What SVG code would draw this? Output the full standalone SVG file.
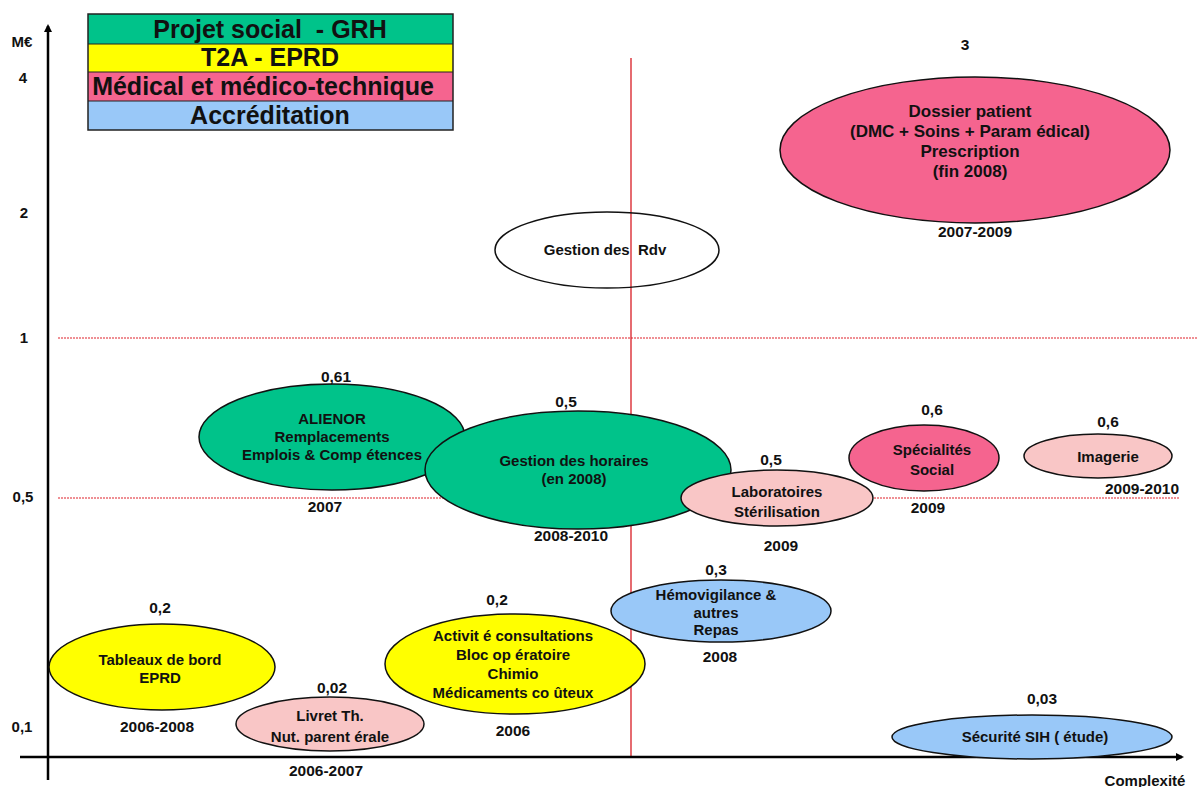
<svg xmlns="http://www.w3.org/2000/svg" width="1198" height="787" viewBox="0 0 1198 787">
  <style>
    text { font-family: "Liberation Sans", Arial, sans-serif; font-weight: bold; fill: #111; text-anchor: middle; }
    .lbl { font-size: 15.5px; }
    .in { font-size: 15px; }
    .big { font-size: 17px; }
    .leg { font-size: 25px; }
    .ax { font-size: 15px; }
    .node ellipse { stroke: #111; stroke-width: 1.5; }
    .grh { fill: #00c38a; }
    .t2a { fill: #ffff00; }
    .med { fill: #f5648f; }
    .medl { fill: #f9c6c6; }
    .acc { fill: #99c8f8; }
    .grid { stroke: #e0202a; stroke-width: 1.2; stroke-dasharray: 2 1; fill: none; }
    .vgrid { stroke: #d81c24; stroke-width: 1.3; fill: none; }
    .axis { stroke: #000; stroke-width: 2.5; fill: none; }
  </style>
  <defs>
    <marker id="arrow" markerWidth="8" markerHeight="8" refX="6" refY="4" orient="auto" markerUnits="userSpaceOnUse">
      <path d="M0,0 L8,4 L0,8 Z" fill="#000"/>
    </marker>
  </defs>
  <rect width="1198" height="787" fill="#ffffff"/>

  <!-- quadrant guides -->
  <g id="guides">
    <line class="grid" x1="58" y1="338" x2="1198" y2="338"/>
    <line class="grid" x1="58" y1="498" x2="1180" y2="498"/>
    <line class="vgrid" x1="631" y1="58" x2="631" y2="757"/>
  </g>

  <!-- axes -->
  <g id="axes">
    <line class="axis" x1="48" y1="780" x2="48" y2="26" marker-end="url(#arrow)"/>
    <line class="axis" x1="20" y1="757" x2="1182" y2="757" marker-end="url(#arrow)"/>
    <text class="ax" x="22" y="47">M€</text>
    <text class="ax" x="23" y="83">4</text>
    <text class="ax" x="24" y="218">2</text>
    <text class="ax" x="24" y="343">1</text>
    <text class="ax" x="23" y="502">0,5</text>
    <text class="ax" x="22" y="732">0,1</text>
    <text class="ax" x="1145" y="786" font-size="16.5">Complexité</text>
  </g>

  <!-- legend -->
  <g id="legend">
    <rect x="88" y="14" width="365" height="30" fill="#00c38a"/>
    <rect x="88" y="44" width="365" height="28" fill="#ffff00"/>
    <rect x="88" y="72" width="365" height="29" fill="#f5648f"/>
    <rect x="88" y="101" width="365" height="29" fill="#99c8f8"/>
    <rect x="88" y="14" width="365" height="116" fill="none" stroke="#222" stroke-width="1.5"/>
    <line x1="88" y1="44" x2="453" y2="44" stroke="#222" stroke-width="1"/>
    <line x1="88" y1="72" x2="453" y2="72" stroke="#222" stroke-width="1"/>
    <line x1="88" y1="101" x2="453" y2="101" stroke="#222" stroke-width="1"/>
    <text class="leg" x="270" y="38">Projet social &#160;- GRH</text>
    <text class="leg" x="270" y="66">T2A - EPRD</text>
    <text class="leg" x="263" y="95">Médical et médico-technique</text>
    <text class="leg" x="270" y="124">Accréditation</text>
  </g>

  <g id="dossier-patient" class="node">
    <ellipse class="med" cx="975" cy="150" rx="195" ry="73"/>
    <text class="lbl" x="965" y="50">3</text>
    <text class="big" x="970" y="117">Dossier patient</text>
    <text class="big" x="970" y="137">(DMC + Soins + Param édical)</text>
    <text class="big" x="970" y="157">Prescription</text>
    <text class="big" x="970" y="177">(fin 2008)</text>
    <text class="lbl" x="975" y="237">2007-2009</text>
  </g>

  <g id="gestion-rdv" class="node">
    <ellipse cx="607" cy="250" rx="112" ry="38" fill="none" stroke="#333" stroke-width="1.2"/>
    <text class="in" x="605" y="255" font-size="15.8">Gestion des &#160;Rdv</text>
  </g>

  <g id="alienor" class="node">
    <ellipse class="grh" cx="332" cy="437" rx="133" ry="53"/>
    <text class="lbl" x="336" y="382">0,61</text>
    <text class="in" x="332" y="424">ALIENOR</text>
    <text class="in" x="332" y="442">Remplacements</text>
    <text class="in" x="332" y="460">Emplois &amp; Comp étences</text>
    <text class="lbl" x="325" y="512">2007</text>
  </g>

  <g id="gestion-horaires" class="node">
    <ellipse class="grh" cx="578" cy="470" rx="153" ry="59"/>
    <text class="lbl" x="566" y="407">0,5</text>
    <text class="in" x="574" y="466">Gestion des horaires</text>
    <text class="in" x="574" y="484">(en 2008)</text>
    <text class="lbl" x="571" y="541">2008-2010</text>
  </g>

  <g id="laboratoires" class="node">
    <ellipse class="medl" cx="777" cy="498" rx="96" ry="28"/>
    <text class="lbl" x="771" y="465">0,5</text>
    <text class="in" x="777" y="497" font-size="16.5">Laboratoires</text>
    <text class="in" x="777" y="517" font-size="16.5">Stérilisation</text>
    <text class="lbl" x="781" y="551">2009</text>
  </g>

  <g id="specialites" class="node">
    <ellipse class="med" cx="924" cy="458" rx="75" ry="33"/>
    <text class="lbl" x="932" y="415">0,6</text>
    <text class="in" x="932" y="455" font-size="17">Spécialités</text>
    <text class="in" x="932" y="475" font-size="17">Social</text>
    <text class="lbl" x="928" y="513">2009</text>
  </g>

  <g id="imagerie" class="node">
    <ellipse class="medl" cx="1098" cy="456" rx="74" ry="22"/>
    <text class="lbl" x="1108" y="427">0,6</text>
    <text class="in" x="1108" y="462" font-size="16">Imagerie</text>
    <text class="lbl" x="1142" y="494">2009-2010</text>
  </g>

  <g id="hemovigilance" class="node">
    <ellipse class="acc" cx="721" cy="611" rx="110" ry="31"/>
    <text class="lbl" x="716" y="575">0,3</text>
    <text class="in" x="716" y="600">Hémovigilance &amp;</text>
    <text class="in" x="716" y="618">autres</text>
    <text class="in" x="716" y="635">Repas</text>
    <text class="lbl" x="720" y="662">2008</text>
  </g>

  <g id="tableaux-de-bord" class="node">
    <ellipse class="t2a" cx="162" cy="667" rx="113" ry="43"/>
    <text class="lbl" x="160" y="613">0,2</text>
    <text class="in" x="160" y="665">Tableaux de bord</text>
    <text class="in" x="160" y="683">EPRD</text>
    <text class="lbl" x="157" y="732">2006-2008</text>
  </g>

  <g id="livret" class="node">
    <ellipse class="medl" cx="330" cy="724" rx="94" ry="27"/>
    <text class="lbl" x="332" y="693">0,02</text>
    <text class="in" x="330" y="721" font-size="16.4">Livret Th.</text>
    <text class="in" x="330" y="742" font-size="16.4">Nut. parent érale</text>
    <text class="lbl" x="326" y="776">2006-2007</text>
  </g>

  <g id="activite-consultations" class="node">
    <ellipse class="t2a" cx="515" cy="664" rx="130" ry="50"/>
    <text class="lbl" x="497" y="605">0,2</text>
    <text class="in" x="513" y="641">Activit é consultations</text>
    <text class="in" x="513" y="660">Bloc op ératoire</text>
    <text class="in" x="513" y="679">Chimio</text>
    <text class="in" x="513" y="698">Médicaments co ûteux</text>
    <text class="lbl" x="513" y="736">2006</text>
  </g>

  <g id="securite-sih" class="node">
    <ellipse class="acc" cx="1032" cy="737" rx="140" ry="22"/>
    <text class="lbl" x="1042" y="704">0,03</text>
    <text class="in" x="1035" y="742">Sécurité SIH ( étude)</text>
  </g>
</svg>
